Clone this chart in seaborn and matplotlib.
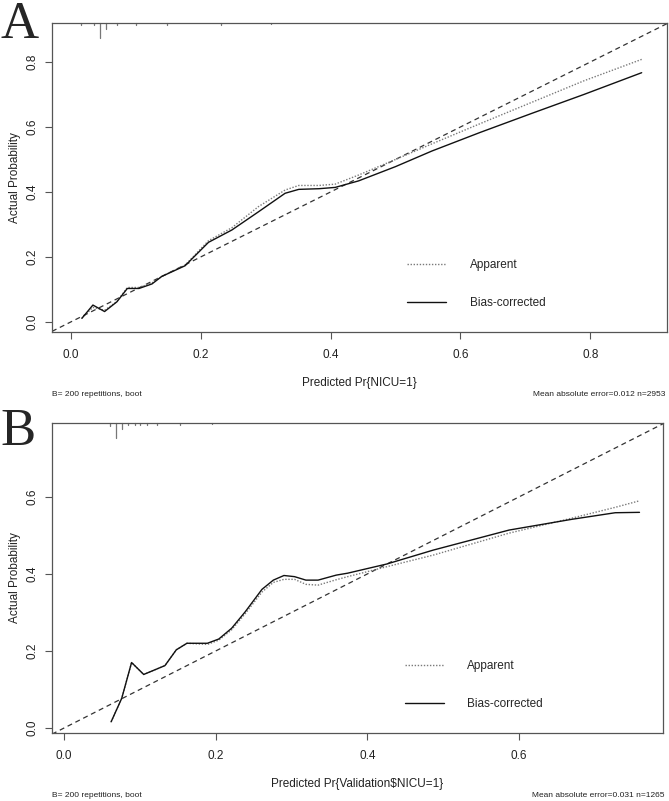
import numpy as np
import pandas as pd
import matplotlib
matplotlib.use("Agg")
import matplotlib.pyplot as plt
import seaborn as sns

# panel A: training set calibration
a_x = [0.017, 0.034, 0.052, 0.071, 0.087, 0.105, 0.125, 0.14, 0.176, 0.212, 0.248,
       0.289, 0.33, 0.351, 0.382, 0.407, 0.443, 0.5, 0.556, 0.63, 0.71, 0.79, 0.879]
a_apparent = [0.012, 0.045, 0.036, 0.063, 0.106, 0.106, 0.12, 0.14, 0.175, 0.25, 0.29,
              0.355, 0.406, 0.42, 0.42, 0.424, 0.452, 0.50, 0.548, 0.61, 0.676, 0.742, 0.808]
a_bias = [0.011, 0.052, 0.032, 0.062, 0.103, 0.103, 0.117, 0.14, 0.173, 0.245, 0.283,
          0.339, 0.396, 0.408, 0.41, 0.414, 0.434, 0.478, 0.526, 0.583, 0.642, 0.70, 0.767]
a_rug_x = [0.016, 0.035, 0.045, 0.054, 0.071, 0.1, 0.148, 0.231, 0.309]
a_rug_h = [0.008, 0.008, 0.05, 0.02, 0.006, 0.006, 0.005, 0.005, 0.004]

# panel B: validation set calibration
b_x = [0.062, 0.076, 0.089, 0.105, 0.133, 0.148, 0.162, 0.189, 0.204, 0.221, 0.239, 0.261,
       0.276, 0.29, 0.304, 0.319, 0.335, 0.359, 0.374, 0.426, 0.487, 0.587, 0.67, 0.727, 0.759]
b_apparent = [0.016, 0.077, 0.17, 0.139, 0.162, 0.203, 0.22, 0.217, 0.228, 0.255, 0.297, 0.353,
              0.378, 0.386, 0.386, 0.373, 0.371, 0.385, 0.393, 0.419, 0.449, 0.506, 0.545, 0.573, 0.59]
b_bias = [0.016, 0.077, 0.17, 0.139, 0.162, 0.203, 0.22, 0.22, 0.231, 0.259, 0.302, 0.36,
          0.384, 0.396, 0.393, 0.384, 0.384, 0.397, 0.402, 0.426, 0.462, 0.514, 0.542, 0.559, 0.56]
b_rug_x = [0.061, 0.069, 0.077, 0.084, 0.093, 0.1, 0.11, 0.123, 0.153, 0.195]
b_rug_h = [0.009, 0.048, 0.018, 0.008, 0.008, 0.007, 0.006, 0.005, 0.005, 0.004]

sns.set_style("ticks")
plt.rcParams["font.family"] = ["Liberation Sans", "DejaVu Sans"]

fig = plt.figure(figsize=(6.69, 8.01), dpi=100)
axA = fig.add_axes([0.0777, 0.5855, 0.9193, 0.3858])
axB = fig.add_axes([0.0777, 0.0849, 0.9133, 0.3870])

panels = [
    (axA, a_x, a_apparent, a_bias, a_rug_x, a_rug_h, (-0.029, 0.918), (-0.031, 0.92),
     [0, 0.2, 0.4, 0.6, 0.8], "Predicted Pr{NICU=1}", "Mean absolute error=0.012 n=2953",
     "A", 1 - 38 / 801),
    (axB, b_x, b_apparent, b_bias, b_rug_x, b_rug_h, (-0.016, 0.79), (-0.013, 0.792),
     [0, 0.2, 0.4, 0.6], "Predicted Pr{Validation$NICU=1}", "Mean absolute error=0.031 n=1265",
     "B", 1 - 445 / 801),
]

for ax, xs, app, bias, rx, rh, xl, yl, ticks, xlab, mae, letter, ly in panels:
    df = pd.DataFrame({"x": xs + xs,
                       "y": app + bias,
                       "kind": ["Apparent"] * len(xs) + ["Bias-corrected"] * len(xs)})
    sns.lineplot(data=df[df.kind == "Apparent"], x="x", y="y", ax=ax, sort=False,
                 estimator=None, color="#7a7a7a", lw=1.0, linestyle=(0, (1, 1.2)),
                 label="Apparent")
    sns.lineplot(data=df[df.kind == "Bias-corrected"], x="x", y="y", ax=ax, sort=False,
                 estimator=None, color="#111111", lw=1.0, label="Bias-corrected")
    # ideal line
    ax.plot([xl[0], xl[1]], [xl[0], xl[1]], color="#333333", lw=0.9,
            linestyle=(0, (4, 3)), zorder=1)
    # rug at top
    for xv, h in zip(rx, rh):
        ax.plot([xv, xv], [1, 1 - h], transform=ax.get_xaxis_transform(),
                color="#777777", lw=0.9, clip_on=False)
    ax.set_xlim(*xl)
    ax.set_ylim(*yl)
    ax.set_xticks(ticks)
    ax.set_yticks(ticks)
    ax.set_xticklabels([f"{t:.1f}" for t in ticks])
    ax.set_yticklabels([f"{t:.1f}" for t in ticks], rotation=90, va="center")
    ax.tick_params(axis="both", direction="out", length=5, width=0.8, color="#555555",
                   labelsize=8.5, labelcolor="#222222")
    ax.tick_params(axis="x", pad=7)
    ax.tick_params(axis="y", pad=5)
    for s in ax.spines.values():
        s.set_color("#555555")
        s.set_linewidth(0.9)
    ax.set_xlabel(xlab, fontsize=8.5, labelpad=12, color="#222222")
    ax.set_ylabel("Actual Probability", fontsize=8.5, labelpad=4, color="#222222")
    ax.legend(loc="upper left", bbox_to_anchor=(0.56, 0.27), frameon=False,
              fontsize=8.5, handlelength=3.3, handletextpad=2.0, labelspacing=2.2)

    bb = ax.get_position()
    fig.text(bb.x0, bb.y0 - 0.078, "B= 200 repetitions, boot", fontsize=6,
             ha="left", va="center", color="#222222")
    fig.text(0.994, bb.y0 - 0.078, mae, fontsize=6, ha="right", va="center",
             color="#222222")
    fig.text(0.001, ly, letter, fontsize=38, family="Liberation Serif",
             ha="left", va="baseline")

fig.savefig("out.png", dpi=100)
